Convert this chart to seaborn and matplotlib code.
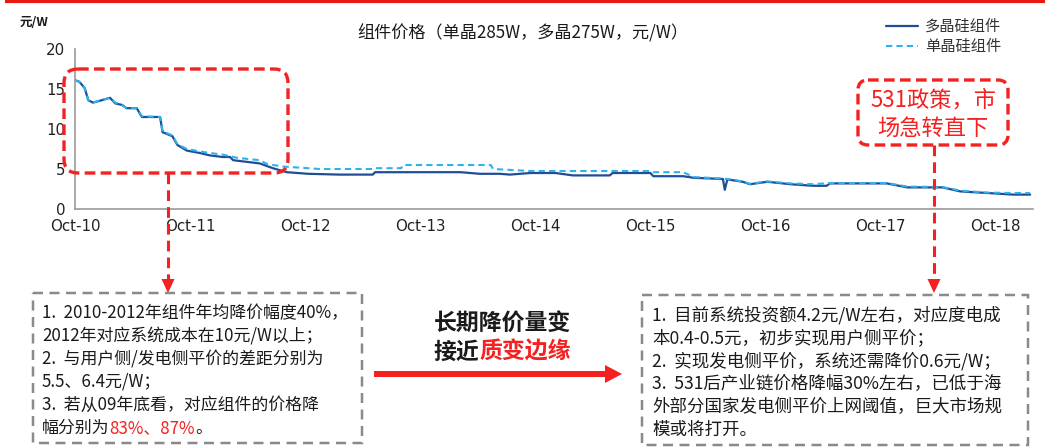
import matplotlib
matplotlib.use("Agg")
import matplotlib.pyplot as plt
import matplotlib.dates as mdates
from matplotlib.patches import FancyBboxPatch, FancyArrow, Polygon
import pandas as pd
import seaborn as sns

# ---- module prices (元/W) ----
poly_dates = ["2010-10-01", "2010-10-15", "2010-11-01", "2010-11-12", "2010-11-27",
              "2010-12-25", "2011-01-20", "2011-02-06", "2011-02-28", "2011-03-13",
              "2011-04-15", "2011-05-01", "2011-06-28", "2011-07-06", "2011-08-06",
              "2011-08-22", "2011-09-21", "2011-11-01", "2011-12-03", "2012-01-13",
              "2012-02-05", "2012-02-15", "2012-03-28", "2012-05-09", "2012-06-20",
              "2012-08-03", "2012-10-10", "2013-01-18", "2013-05-03", "2013-05-10",
              "2013-08-07", "2014-02-06", "2014-04-07", "2014-06-10", "2014-07-12",
              "2014-09-15", "2014-12-03", "2015-01-28", "2015-05-25", "2015-06-03",
              "2015-10-01", "2015-10-10", "2016-01-13", "2016-02-15", "2016-05-18",
              "2016-05-24", "2016-06-01", "2016-07-20", "2016-08-12", "2016-10-06",
              "2016-12-18", "2017-03-01", "2017-04-12", "2017-04-22", "2017-10-20",
              "2017-12-24", "2018-04-15", "2018-06-10", "2018-09-04", "2018-11-25",
              "2019-01-18"]
poly_price = [16.1, 15.9, 15.1, 13.6, 13.3,
              13.6, 13.9, 13.2, 13.0, 12.6,
              12.6, 11.5, 11.5, 9.6, 9.1,
              8.0, 7.3, 7.0, 6.7, 6.5,
              6.5, 6.1, 5.9, 5.7, 5.1,
              4.6, 4.4, 4.3, 4.3, 4.6,
              4.6, 4.6, 4.4, 4.4, 4.3,
              4.5, 4.5, 4.2, 4.2, 4.5,
              4.5, 4.1, 4.1, 3.9, 3.75,
              2.4, 3.7, 3.4, 3.1, 3.4,
              3.1, 2.9, 2.9, 3.2, 3.2,
              2.7, 2.7, 2.2, 2.0, 1.8,
              1.8]

mono_dates = ["2010-10-01", "2010-10-15", "2010-11-01", "2010-11-12", "2010-11-27",
              "2010-12-25", "2011-01-20", "2011-02-06", "2011-02-28", "2011-03-13",
              "2011-04-15", "2011-05-01", "2011-06-28", "2011-07-06", "2011-08-06",
              "2011-08-22", "2011-09-21", "2011-11-01", "2011-12-03", "2012-01-13",
              "2012-02-27", "2012-05-09", "2012-06-03", "2012-07-25", "2012-10-10",
              "2012-11-15", "2013-05-03", "2013-05-10", "2013-08-01", "2013-08-07",
              "2014-05-12", "2014-05-20", "2014-09-15", "2015-10-01", "2015-10-10",
              "2016-01-13", "2016-02-15", "2016-05-18", "2016-06-01", "2016-07-20",
              "2016-08-12", "2016-10-06", "2016-12-18", "2017-03-01", "2017-04-22",
              "2017-10-20", "2017-12-24", "2018-04-15", "2018-06-10", "2018-09-04",
              "2018-11-25", "2019-01-18"]
mono_price = [16.1, 15.9, 15.1, 13.6, 13.3,
              13.6, 13.9, 13.3, 13.0, 12.6,
              12.6, 11.6, 11.5, 9.7, 9.2,
              8.1, 7.5, 7.2, 7.0, 6.8,
              6.4, 6.1, 5.6, 5.3, 5.1,
              5.0, 5.0, 5.1, 5.1, 5.5,
              5.5, 5.0, 4.75, 4.75, 4.6,
              4.6, 4.0, 3.8, 3.75, 3.45,
              3.15, 3.45, 3.2, 3.1, 3.25,
              3.25, 2.8, 2.75, 2.3, 2.05,
              2.0, 2.0]

series_names = ["多晶硅组件", "单晶硅组件"]
y_ticks = [0, 5, 10, 15, 20]
x_start, x_end = "2010-10-01", "2019-01-27"

chart_title = "组件价格（单晶285W，多晶275W，元/W）"
y_unit = "元/W"

left_notes = [
    [("1.  2010-2012年组件年均降价幅度40%，", "k")],
    [("2012年对应系统成本在10元/W以上；", "k")],
    [("2.  与用户侧/发电侧平价的差距分别为", "k")],
    [("5.5、6.4元/W；", "k")],
    [("3.  若从09年底看，对应组件的价格降", "k")],
    [("幅分别为", "k"), ("83%、87%", "r"), ("。", "k")],
]
right_notes = [
    [("1.  目前系统投资额4.2元/W左右，对应度电成", "k")],
    [("本0.4-0.5元，初步实现用户侧平价；", "k")],
    [("2.  实现发电侧平价，系统还需降价0.6元/W；", "k")],
    [("3.  531后产业链价格降幅30%左右，已低于海", "k")],
    [("外部分国家发电侧平价上网阈值，巨大市场规", "k")],
    [("模或将打开。", "k")],
]
middle_lines = [
    [("长期降价量变", "k")],
    [("接近", "k"), ("质变边缘", "r")],
]
policy_lines = ["531政策，市", "场急转直下"]

# ---- styling ----
POLY_C = "#1f4e96"
MONO_C = "#2bb3ee"
RED = "#f52020"
TXT = "#1a1a1a"
GREY = "#8a8a8a"
COLORS = {"k": TXT, "r": RED}

sns.set_theme(style="white")
plt.rcParams["font.family"] = ["Noto Sans CJK SC", "DejaVu Sans"]
plt.rcParams["axes.unicode_minus"] = False

W, H = 1045, 448
fig = plt.figure(figsize=(W / 100, H / 100), dpi=100)
ax = fig.add_axes([75 / W, 1 - 209 / H, (1033 - 75) / W, (209 - 49) / H])

df_poly = pd.DataFrame({"date": pd.to_datetime(poly_dates), "price": poly_price})
df_mono = pd.DataFrame({"date": pd.to_datetime(mono_dates), "price": mono_price})

sns.lineplot(data=df_poly, x="date", y="price", ax=ax, color=POLY_C,
             linewidth=1.6, label=series_names[0])
sns.lineplot(data=df_mono, x="date", y="price", ax=ax, color=MONO_C,
             linewidth=1.5, linestyle=(0, (3, 2)), label=series_names[1])

ax.set_xlim(pd.Timestamp(x_start), pd.Timestamp(x_end))
ax.set_ylim(y_ticks[0], y_ticks[-1])
ax.set_yticks(y_ticks)
ax.xaxis.set_major_locator(mdates.MonthLocator(bymonth=10, bymonthday=1))
ax.xaxis.set_major_formatter(mdates.DateFormatter("%b-%y"))
ax.set_xlabel("")
ax.set_ylabel("")
for side in ("top", "right"):
    ax.spines[side].set_visible(False)
for side in ("left", "bottom"):
    ax.spines[side].set_color("#9a9a9a")
    ax.spines[side].set_linewidth(1.2)
ax.tick_params(axis="both", which="major", direction="out", length=4, width=1,
               color="#9a9a9a", labelsize=10.8, labelcolor="#222222", pad=3)
for lab in ax.get_xticklabels() + ax.get_yticklabels():
    lab.set_family(["DejaVu Sans"])

ax.legend(loc="upper left", bbox_to_anchor=(886 / W, 1 - 18 / H),
          bbox_transform=fig.transFigure, frameon=False, fontsize=11,
          handlelength=2.1, handletextpad=0.45, labelspacing=0.2,
          borderpad=0, borderaxespad=0, labelcolor="#333333")

# ---- overlay in pixel coordinates for callouts ----
ov = fig.add_axes([0, 0, 1, 1], zorder=10)
ov.set_xlim(0, W)
ov.set_ylim(H, 0)
ov.axis("off")
ov.patch.set_alpha(0)

ov.plot([5, W], [1.2, 1.2], color="#e8190f", lw=3, solid_capstyle="butt")

ov.text(523, 33, chart_title, ha="center", va="center", fontsize=12.3, color=TXT)
ov.text(20, 23, y_unit, ha="left", va="center", fontsize=9, weight="bold", color=TXT)

def rounded_box(x0, y0, x1, y1, color, lw, dash, r):
    ov.add_patch(FancyBboxPatch((x0, y0), x1 - x0, y1 - y0,
                                boxstyle=f"round,pad=0,rounding_size={r}",
                                fc="none", ec=color, lw=lw, linestyle=dash))

def drop_arrow(x, y0, y1):
    ov.plot([x, x], [y0, y1 - 12], color=RED, lw=2.2, linestyle=(0, (3.5, 2)))
    ov.add_patch(Polygon([[x - 6.5, y1 - 14], [x + 6.5, y1 - 14], [x, y1]],
                         closed=True, color=RED, lw=0))

rounded_box(64, 69, 288, 173, RED, 2.4, (0, (3.2, 1.6)), 14)
drop_arrow(168, 173, 293)
rounded_box(858, 80, 1008, 145, RED, 2.4, (0, (3.2, 1.6)), 10)
drop_arrow(934, 145, 293)

rounded_box(33, 293, 362, 443, GREY, 1.8, (0, (4, 2.6)), 0)
rounded_box(642, 295, 1028, 445, GREY, 1.8, (0, (4, 2.6)), 0)

ov.add_patch(FancyArrow(374, 374, 248, 0, width=6, head_width=18, head_length=17,
                        length_includes_head=True, color=RED, lw=0))

renderer = fig.canvas.get_renderer()

def text_runs(x, y, runs, size, weight="normal", center=False):
    if center:
        total = 0.0
        for s, c in runs:
            t = ov.text(0, y, s, fontsize=size, weight=weight, va="center")
            total += t.get_window_extent(renderer=renderer).width
            t.remove()
        x = x - total / 2
    for s, c in runs:
        t = ov.text(x, y, s, color=COLORS[c], fontsize=size, weight=weight,
                    ha="left", va="center")
        x = t.get_window_extent(renderer=renderer).x1

for i, runs in enumerate(left_notes):
    text_runs(42, 313 + i * 23, runs, 12.2)
for i, runs in enumerate(right_notes):
    text_runs(652, 315 + i * 23, runs, 12.6)
for i, runs in enumerate(middle_lines):
    text_runs(502, 323 + i * 29, runs, 16.5, weight="bold", center=True)
for i, s in enumerate(policy_lines):
    ov.text(933, 100 + i * 28, s, color=RED, fontsize=16, ha="center", va="center")

fig.savefig("out.png", dpi=100)
